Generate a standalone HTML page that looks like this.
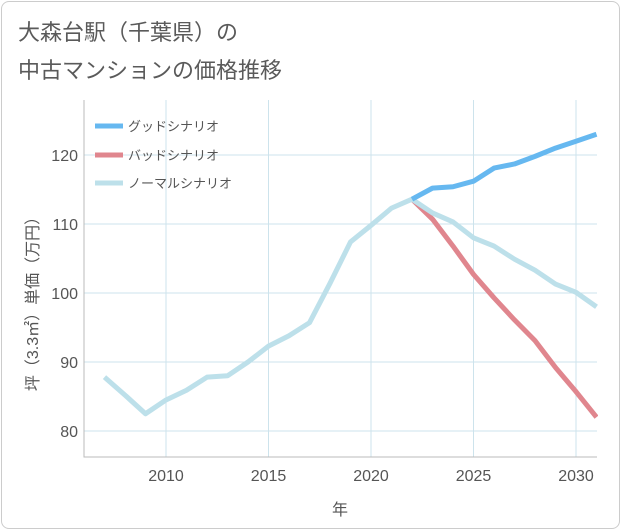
<!DOCTYPE html>
<html><head><meta charset="utf-8"><style>
body{margin:0;background:#fff;font-family:"Liberation Sans","Noto Sans CJK JP",sans-serif}
.card{position:absolute;left:1px;top:1px;width:617px;height:526px;border:1px solid #ccc;border-radius:8px;background:#fff}
.title{position:absolute;left:18px;top:14px;font-size:22px;line-height:38px;color:#5a5a5a}
</style></head><body>
<div class="card"></div>
<div class="title">大森台駅（千葉県）の<br>中古マンションの価格推移</div>
<svg id="chart" width="621" height="530" style="position:absolute;left:0;top:0"></svg>
<script>
const years=[2007,2008,2009,2010,2011,2012,2013,2014,2015,2016,2017,2018,2019,2020,2021,2022,2023,2024,2025,2026,2027,2028,2029,2030,2031];
const normal=[87.8,85.2,82.5,84.5,85.9,87.8,88,90,92.3,93.8,95.7,101.4,107.4,109.8,112.3,113.6,111.6,110.3,108,106.8,104.9,103.3,101.3,100.1,98];
const goodYears=[2022,2023,2024,2025,2026,2027,2028,2029,2030,2031];
const good=[113.6,115.2,115.4,116.2,118.1,118.7,119.8,121,122,123];
const bad=[113.6,110.7,106.8,102.7,99.3,96.1,93.1,89.2,85.7,82];
const xTicks=[2010,2015,2020,2025,2030];
const yTicks=[80,90,100,110,120];
const NS="http://www.w3.org/2000/svg";
const svg=document.getElementById('chart');
const L=84,R=597,T=100,B=457;
const x=v=>166+(v-2010)*20.5;
const y=v=>431-(v-80)*6.9;
function mk(t,a){const e=document.createElementNS(NS,t);for(const k in a)e.setAttribute(k,a[k]);svg.appendChild(e);return e;}
for(const t of xTicks){const g=mk('line',{x1:x(t),x2:x(t),y1:T,y2:B,stroke:'#cde3ec','stroke-width':1});


const tx=mk('text',{x:x(t),y:481,'text-anchor':'middle','font-size':16,fill:'#555'});tx.textContent=t;

}
for(const t of yTicks){const g=mk('line',{x1:L,x2:R,y1:y(t),y2:y(t),stroke:'#cde3ec','stroke-width':1});


const tx=mk('text',{x:78,y:y(t)+6,'text-anchor':'end','font-size':16,fill:'#555'});tx.textContent=t;

}
const ax=mk('path',{d:`M${L} ${T}V${B}H${R}`,fill:'none',stroke:'#bbb','stroke-width':1});


function line(xs,vs,c,n){const d=xs.map((t,i)=>(i?'L':'M')+x(t)+' '+y(vs[i])).join('');
const p=mk('path',{d,fill:'none',stroke:c,'stroke-width':5,'stroke-linejoin':'round'});

}
line(goodYears,bad,'#e0868e','bad-scenario-line');
line(years,normal,'#bde0ea','normal-scenario-line');
line(goodYears,good,'#66b8f0','good-scenario-line');
const cover=mk('rect',{x:R+1,y:90,width:20,height:380,fill:'#fff'});


const leg=[['グッドシナリオ','#66b8f0',126],['バッドシナリオ','#e0868e',155],['ノーマルシナリオ','#bde0ea',183]];
for(const [t,c,yy] of leg){const l=mk('line',{x1:95,x2:123,y1:yy,y2:yy,stroke:c,'stroke-width':5});


const tx=mk('text',{x:128,y:yy+5,'font-size':13,fill:'#555'});tx.textContent=t;

}
const xt=mk('text',{x:340,y:515,'text-anchor':'middle','font-size':16,fill:'#555'});xt.textContent='年';


const yt=mk('text',{x:0,y:0,'text-anchor':'middle','font-size':16,fill:'#555',transform:'translate(38,300) rotate(-90)'});yt.textContent='坪（3.3㎡）単価（万円）';


</script>
</body></html>
